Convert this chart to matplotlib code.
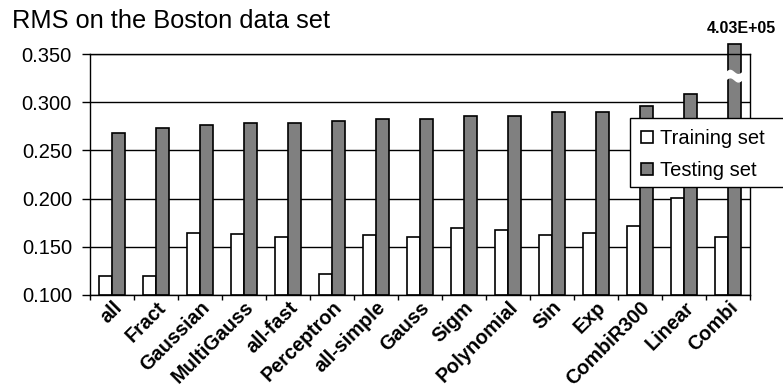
import numpy as np
import matplotlib
matplotlib.use("Agg")
import matplotlib.pyplot as plt
from matplotlib.patches import Rectangle
from matplotlib.ticker import FixedLocator, FormatStrFormatter

plt.rcParams['font.family'] = ['Liberation Sans', 'DejaVu Sans']

categories = ["all", "Fract", "Gaussian", "MultiGauss", "all-fast", "Perceptron",
              "all-simple", "Gauss", "Sigm", "Polynomial", "Sin", "Exp",
              "CombiR300", "Linear", "Combi"]
training = [0.120, 0.120, 0.164, 0.163, 0.160, 0.122, 0.162, 0.160, 0.169,
            0.167, 0.162, 0.164, 0.172, 0.201, 0.160]
testing = [0.268, 0.273, 0.276, 0.278, 0.278, 0.280, 0.283, 0.283, 0.286,
           0.286, 0.290, 0.290, 0.296, 0.308, 4.03e5]
yticks = [0.100, 0.150, 0.200, 0.250, 0.300, 0.350]
title = "RMS on the Boston data set"
series_names = ["Training set", "Testing set"]

ymin, ymax = 0.100, 0.350
cap = 0.360  # display cap for off-scale bars

fig = plt.figure(figsize=(7.83, 3.92), dpi=100)
ax = fig.add_axes([90/783, 1 - 295/392, (750-90)/783, (295-54)/392])

x = np.arange(len(categories))
w = 0.29
train_arr = np.array(training)
test_arr = np.array(testing)
test_disp = np.minimum(test_arr, cap)

for yv in yticks:
    ax.axhline(yv, color='black', lw=1.0, zorder=0.5)

b1 = ax.bar(x - w/2, train_arr - ymin, bottom=ymin, width=w, color='white',
            edgecolor='black', linewidth=1.2, zorder=2, label=series_names[0])
b2 = ax.bar(x + w/2, test_disp - ymin, bottom=ymin, width=w, color='#808080',
            edgecolor='black', linewidth=1.2, zorder=2, label=series_names[1])
for rect in b2:
    rect.set_clip_on(False)

# break marks and value labels for off-scale bars
for i, (v, vd) in enumerate(zip(test_arr, test_disp)):
    if v > cap - 1e-9:
        xc = x[i] + w/2
        xs = np.linspace(xc - w/2 - 0.04, xc + w/2 + 0.04, 40)
        phase = (xs - xs[0]) / (xs[-1] - xs[0])
        yc = 0.327 + 0.0022 * np.sin(phase * 2 * np.pi)
        top = yc + 0.0045
        bot = yc - 0.0045
        ax.fill(np.concatenate([xs, xs[::-1]]), np.concatenate([top, bot[::-1]]),
                color='white', zorder=3, clip_on=False, lw=0)
        ax.annotate(f"{v:.2E}", xy=(xc, vd), xytext=(5, 6), textcoords='offset points',
                    ha='center', va='bottom', fontsize=11.5, fontweight='bold',
                    annotation_clip=False)

ax.set_xlim(-0.5, len(categories) - 0.5)
ax.set_ylim(ymin, ymax)
ax.yaxis.set_major_locator(FixedLocator(yticks))
ax.yaxis.set_major_formatter(FormatStrFormatter('%.3f'))
ax.tick_params(axis='y', labelsize=14.5, length=5.5, width=1, direction='out', pad=7.5)

ax.set_xticks(x)
ax.set_xticklabels(categories, rotation=45, ha='right', rotation_mode='anchor',
                   fontsize=14.3, fontweight='bold')
ax.tick_params(axis='x', which='major', length=0, pad=2)
ax.set_xticks(np.arange(len(categories) + 1) - 0.5, minor=True)
ax.tick_params(axis='x', which='minor', length=3.6, width=1, direction='out')

for s in ['left', 'right', 'top', 'bottom']:
    ax.spines[s].set_color('black')
    ax.spines[s].set_linewidth(1.0)

fig.text(12/783, 1 - 21/392, title, fontsize=18.3, ha='left', va='center')

# legend box (extends past the right edge of the figure, as in the reference)
frame = Rectangle((630/783, 1 - 187/392), 0.3, (187-118)/392, transform=fig.transFigure,
                  facecolor='white', edgecolor='black', linewidth=1.0, zorder=4,
                  clip_on=False)
fig.patches.append(frame)

leg = fig.legend(handles=[b1, b2], loc='upper left',
                 bbox_to_anchor=(630/783, 1 - 118/392),
                 bbox_transform=fig.transFigure,
                 fontsize=14.5, frameon=False,
                 handlelength=0.6, handleheight=0.6,
                 handletextpad=0.35, borderpad=0.55, labelspacing=0.65,
                 borderaxespad=0)
leg.set_zorder(5)

fig.savefig("out.png", dpi=100)
